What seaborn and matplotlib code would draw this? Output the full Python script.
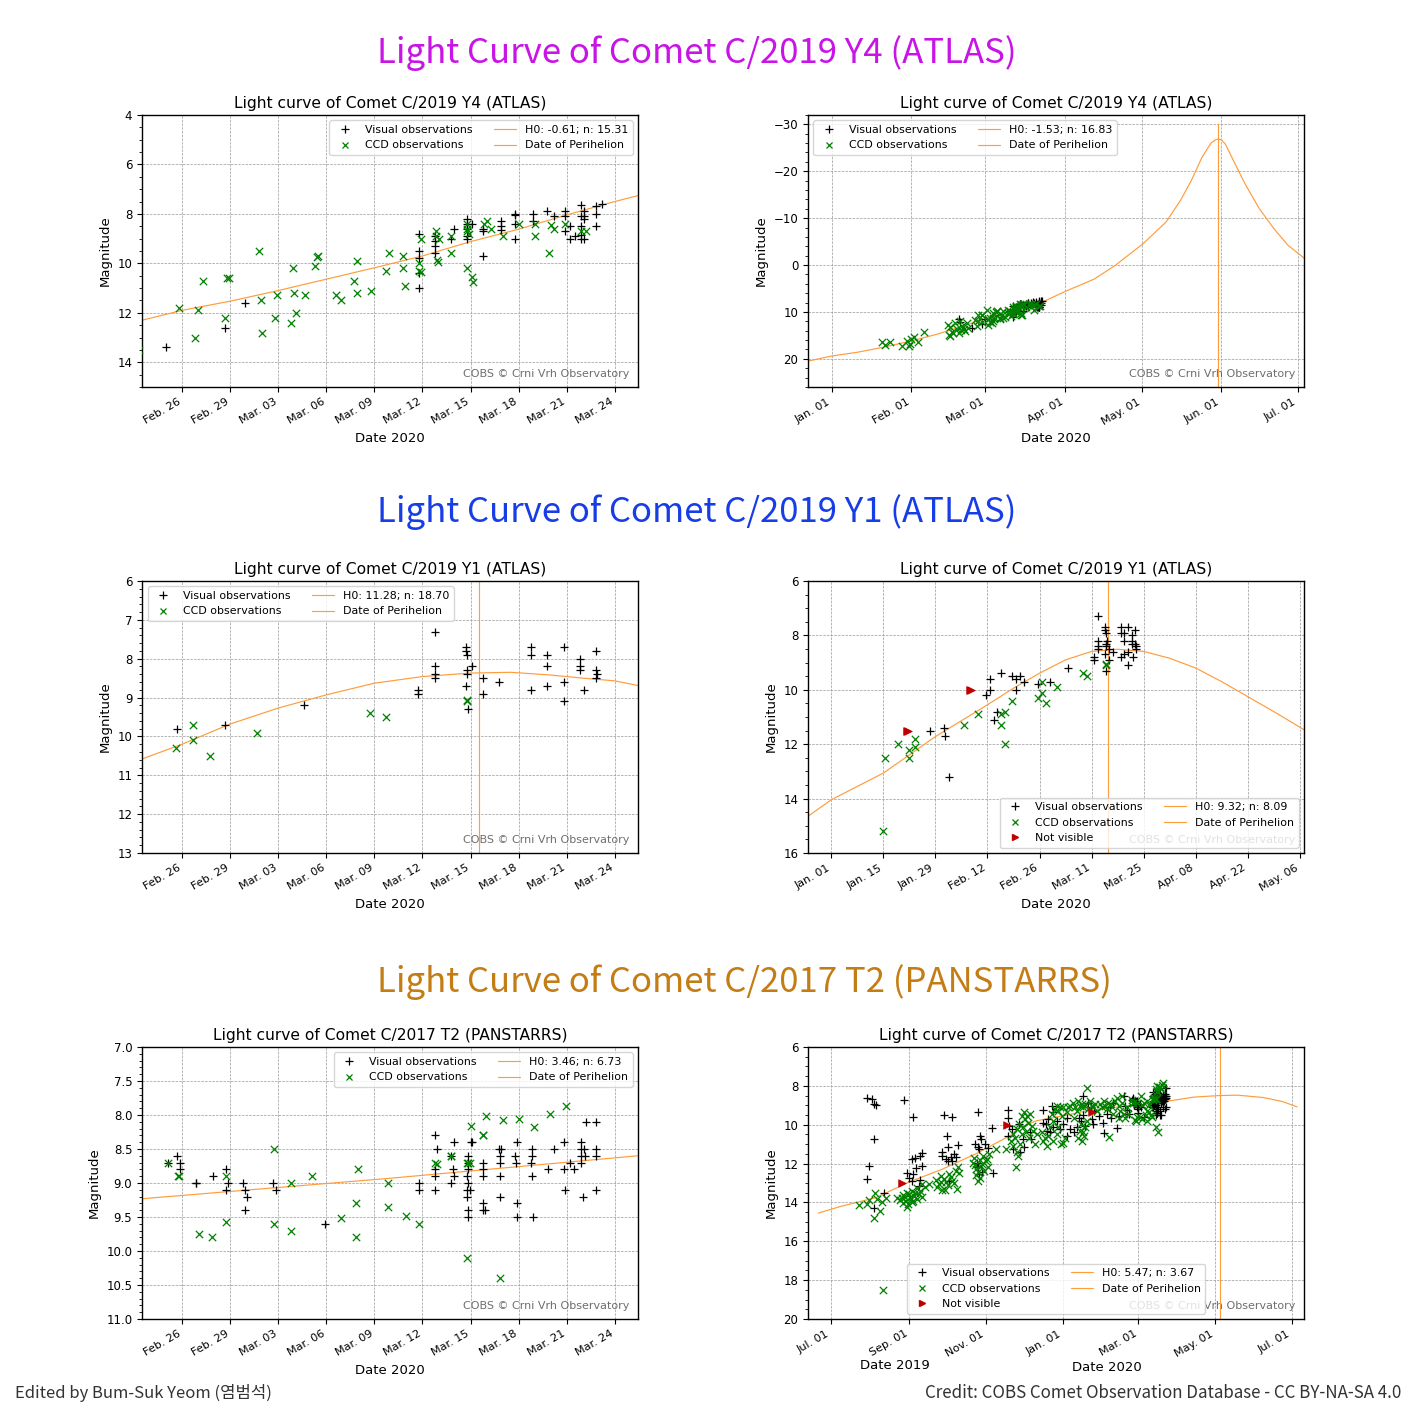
import numpy as np
import pandas as pd
import matplotlib
matplotlib.use('Agg')
import matplotlib.pyplot as plt
import matplotlib.dates as mdates
from matplotlib.lines import Line2D
from matplotlib.ticker import MultipleLocator, AutoMinorLocator, FormatStrFormatter
import seaborn as sns

# all dates are day numbers counted from 2019-12-31 (1 = 2020-01-01, negative = 2019)
BASE = pd.Timestamp('2019-12-31')

# ---- C/2019 Y4 (ATLAS) ----
y4_vis_day = [50.6, 51.3, 56.0, 59.7, 60.9,
              71.8, 71.8, 71.8, 71.8, 71.8, 72.8, 72.8, 72.8, 72.8, 73.8, 73.95,
              74.75, 74.75, 74.75, 74.75, 74.75, 75.1, 75.75, 75.75, 75.75,
              76.9, 76.9, 76.9, 77.8, 77.8, 77.8, 77.8, 78.9, 78.9, 79.8, 80.2,
              80.9, 80.9, 80.9, 81.2, 81.2, 81.5, 81.9, 81.9, 81.9, 81.9, 81.9,
              82.1, 82.1, 82.1, 82.1, 82.8, 82.8, 82.8, 83.2]
y4_vis_mag = [11.6, 12.2, 13.4, 12.6, 11.6,
              8.8, 9.5, 9.8, 10.4, 11.0, 8.9, 9.1, 9.3, 9.6, 9.0, 8.6,
              8.2, 8.4, 8.6, 8.9, 9.0, 8.4, 8.6, 8.7, 9.7,
              8.3, 8.5, 8.65, 8.0, 8.05, 8.4, 9.0, 8.0, 8.3, 7.9, 8.1,
              7.9, 8.1, 8.7, 8.5, 9.0, 8.9, 7.65, 8.1, 8.5, 8.85, 9.0,
              7.9, 8.1, 8.2, 9.0, 7.7, 8.0, 8.5, 7.6]
y4_ccd_day = [20.7, 21.9, 24.0, 28.5, 30.4, 31.3, 31.7, 32.0, 33.1, 34.6, 36.9,
              46.3, 46.7, 47.3, 47.4, 48.1, 48.6, 49.3, 49.9, 50.6, 51.2, 51.6,
              51.9, 52.8, 53.2, 53.7, 54.3,
              56.8, 57.8, 58.0, 58.3, 59.7, 59.8, 59.9, 61.8, 61.9, 62.0, 62.8,
              62.9, 63.8, 63.9, 64.0, 64.1, 64.7, 65.3, 65.4, 65.45, 66.6, 66.9,
              67.7, 67.9, 67.9, 68.8, 69.7, 69.9, 70.8, 70.8, 70.9, 71.8, 71.8,
              71.9, 71.9, 72.85, 72.85, 72.9, 72.95, 73.0, 73.8, 73.8, 74.75,
              74.8, 74.8, 74.8, 74.9, 75.1, 75.15, 75.85, 76.0, 76.3, 77.0, 78.0,
              79.0, 79.0, 79.9, 80.0, 80.2, 80.9, 81.9, 82.2]
y4_ccd_mag = [16.4, 17.0, 16.5, 17.2, 16.2, 17.3, 16.9, 15.8, 15.4, 16.3, 14.3,
              12.7, 14.9, 13.3, 15.1, 14.2, 14.4, 12.3, 13.7, 14.4, 11.9, 13.8,
              13.1, 13.7, 14.0, 12.4, 13.5,
              11.8, 13.0, 11.9, 10.7, 12.2, 10.6, 10.6, 9.5, 11.5, 12.8, 12.2,
              11.3, 12.4, 10.2, 11.2, 12.0, 11.3, 10.1, 9.75, 9.7, 11.3, 11.5,
              10.7, 11.2, 9.9, 11.1, 10.3, 9.6, 9.7, 10.2, 10.9, 10.0, 10.3,
              9.0, 10.35, 8.7, 8.9, 9.85, 9.95, 9.0, 8.9, 9.6, 8.4,
              8.6, 8.7, 10.2, 8.8, 10.55, 10.75, 8.4, 8.3, 8.6, 8.9, 8.4,
              8.4, 8.9, 9.6, 8.45, 8.6, 8.4, 8.7, 8.7]
y4_nv_day = []
y4_nv_mag = []
y4_fit_zoom_day = [54.5, 57, 60, 63, 66, 69, 72, 75, 78, 81, 84, 85.5]
y4_fit_zoom_mag = [12.3, 11.9, 11.53, 11.1, 10.64, 10.18, 9.7, 9.12, 8.62, 8.04, 7.5, 7.25]
y4_fit_full_day = [-8.3, 1, 11, 21.5, 32, 41.8, 53, 61, 72.7, 84, 92.3, 103.5, 111.9,
                   122.7, 131.6, 137.2, 141.4, 145.6, 149.1, 150.8, 152, 153.3, 154.7,
                   158.2, 162.4, 168, 173.6, 179.2, 186.3]
y4_fit_full_mag = [20.5, 19.4, 18.6, 17.5, 16.2, 14.8, 12.9, 11.4, 9.5, 7.7, 5.6, 3.0, 0.0,
                   -4.6, -9.2, -13.8, -18.0, -23.0, -26.0, -26.7, -26.9, -26.6, -25.8,
                   -21.9, -17.3, -12.0, -7.8, -4.2, -1.1]
y4_peri = 152.0

# ---- C/2019 Y1 (ATLAS) ----
y1_vis_day = [27.6, 31.3, 31.6, 32.7, 42.7, 43.75, 43.75, 44.7, 45.6, 46.6, 49.7,
              50.7, 50.7, 51.8, 52.8,
              56.7, 59.7, 64.6, 71.75, 71.75, 72.8, 72.8, 72.8, 72.8, 74.7, 74.7,
              74.75, 74.75, 74.8, 74.7, 74.85, 75.1, 75.8, 75.8, 76.8, 78.8, 78.8,
              78.8, 79.8, 79.8, 79.75, 80.8, 80.8, 80.85, 81.8, 81.8, 81.8, 82.1,
              82.8, 82.8, 82.85, 82.9]
y1_vis_mag = [11.5, 11.4, 11.7, 13.2, 10.2, 9.6, 10.0, 11.1, 10.8, 9.4, 9.5,
              9.6, 10.0, 9.5, 9.7,
              9.8, 9.7, 9.2, 8.8, 8.9, 7.3, 8.2, 8.4, 8.5, 7.7, 7.8,
              7.9, 8.3, 8.4, 8.7, 9.3, 8.2, 8.5, 8.9, 8.6, 7.7, 7.9,
              8.8, 7.9, 8.2, 8.7, 7.7, 8.6, 9.1, 8.0, 8.2, 8.3, 8.8,
              8.3, 7.8, 8.5, 8.4]
y1_ccd_day = [14.9, 15.4, 19.0, 21.75, 21.75, 23.5, 23.5, 36.6, 40.5, 46.6, 46.6,
              47.7, 47.7, 49.7,
              56.6, 57.65, 57.7, 58.75, 61.7, 68.75, 69.7, 74.75, 74.8]
y1_ccd_mag = [15.2, 12.5, 12.0, 12.2, 12.5, 11.8, 12.1, 11.3, 10.9, 10.9, 11.3,
              10.8, 12.0, 10.4,
              10.3, 9.7, 10.1, 10.5, 9.9, 9.4, 9.5, 9.1, 9.05]
y1_nv_day = [21.3, 21.6, 38.3, 38.6]
y1_nv_mag = [11.5, 11.5, 10.0, 10.0]
y1_fit_zoom_day = [54.5, 57, 60, 63, 66, 69, 72, 75, 77.5, 80, 82, 84, 85.45]
y1_fit_zoom_mag = [10.58, 10.2, 9.68, 9.27, 8.93, 8.63, 8.46, 8.37, 8.35, 8.42, 8.5, 8.57, 8.69]
y1_fit_full_day = [-5.3, 1, 15, 29, 43, 50, 57, 64, 71, 78, 85, 92, 99, 106, 113, 120, 128.2]
y1_fit_full_mag = [14.65, 14.04, 13.06, 11.72, 10.55, 9.94, 9.39, 8.9, 8.59, 8.51, 8.59,
                   8.84, 9.2, 9.7, 10.25, 10.8, 11.47]
y1_peri = 75.5

# ---- C/2017 T2 (PANSTARRS) ----
t2_vis_day = [-154.1, -150.7, -148.8, -147.0, -125.0, -117.8, -148.8, -152.8, -154.7,
              -140.9, -148.8, -93.2, -87.1, -66.6, -42.5, -42.2, -55.5, -90.5, -64.5,
              -63.7, -82.3, -89.7, -68.5, -66.6, -65.3, -60.5, -58.4, -42.2, -110.4,
              -112.5, -116.2, -118.3, -117.6, -115.2, -110.9, -95.0, -94.5, -91.8,
              -90.2, -87.9, -84.9, -83.9, -86.5, -89.4, -121.0, -118.3, -112.2,
              -113.0, -122.3, -66.6, -62.7, -54.2, -65.8, -67.2,
              -41.4, -39.6, -33.5, -30.8, -29.8, -38.2, -32.9, -25.0, -24.5, -14.9,
              -14.4, -12.3, -10.4, -7.8, -6.4, -11.7, -9.1, -7.0, -3.8, -1.1, 1.5,
              4.2, 4.2, 6.8, 10.0, 12.1, 14.3, 15.3, 16.9, 17.4, 18.5, 21.4, 23.3,
              24.1, 25.4, 25.9, 29.4, 32.8, 33.4, 36.0, 38.7, 39.2, 41.3, 44.0,
              45.3, 49.3, 50.6, 52.4, 54.0,
              56.14, 56.71, 56.84, 56.89, 57.84, 57.88, 58.92, 59.74, 59.74, 59.85,
              60.78, 60.94, 61.03, 60.9, 62.68, 62.84, 65.89, 71.8, 71.8, 72.79,
              72.93, 72.75, 72.75, 72.79, 73.81, 73.88, 73.95, 73.76, 73.95, 74.83,
              74.83, 74.83, 74.8, 74.87, 74.8, 74.78, 74.85, 74.85, 75.0, 75.1,
              74.97, 75.76, 75.8, 75.76, 75.8, 75.8, 75.92, 76.77, 76.81, 76.92,
              76.86, 76.81, 76.86, 77.79, 77.9, 77.84, 77.9, 77.9, 78.85, 78.85,
              78.78, 78.85, 78.9, 79.83, 80.2, 80.85, 80.85, 80.9, 81.2, 81.45,
              81.86, 81.9, 81.86, 81.9, 82.0, 82.07, 82.11, 82.2, 82.8, 82.8, 82.8,
              82.85]
t2_vis_mag = [8.64, 8.69, 8.91, 8.98, 8.74, 9.6, 10.74, 12.12, 12.77,
              13.49, 14.27, 9.49, 9.6, 9.37, 9.25, 9.63, 10.18, 10.57, 10.57,
              10.74, 11.05, 11.14, 11.0, 11.14, 11.26, 11.0, 11.2, 10.57, 11.45,
              11.6, 11.72, 11.77, 12.55, 12.24, 12.12, 11.38, 11.6, 11.77,
              11.89, 11.68, 11.52, 11.68, 11.89, 12.89, 12.72, 12.89, 12.85,
              13.15, 12.46, 12.2, 12.41, 12.46, 12.55, 11.95,
              10.06, 10.23, 9.94, 10.74, 11.17, 11.26, 11.38, 10.4, 10.74, 9.25,
              9.89, 9.97, 9.71, 9.03, 9.37, 10.32, 10.4, 10.11, 9.8, 10.23, 9.97,
              9.63, 10.57, 10.23, 10.4, 10.14, 9.63, 9.8, 9.49, 8.51, 10.06, 8.86, 9.11,
              9.72, 9.97, 9.29, 9.54, 9.89, 10.45, 9.46, 9.11, 9.63, 8.86, 10.18,
              9.54, 8.51, 9.03, 9.25, 9.46,
              8.71, 8.6, 8.8, 8.7, 9.0, 9.0, 8.9, 8.8, 9.1, 9.0,
              9.0, 9.1, 9.2, 9.4, 9.0, 9.1, 9.6, 9.0, 9.1, 8.3,
              8.5, 8.8, 8.9, 9.1, 8.6, 8.8, 8.4, 9.0, 8.9, 8.6,
              8.7, 8.8, 8.9, 9.0, 9.1, 9.2, 9.4, 9.5, 8.4, 8.4,
              9.1, 8.7, 8.8, 8.9, 9.3, 9.4, 9.4, 8.5, 8.6, 8.5,
              8.7, 8.9, 9.2, 8.6, 8.4, 8.7, 9.3, 9.5, 8.5, 8.6,
              8.7, 8.9, 9.5, 8.8, 8.5, 8.4, 8.8, 9.1, 8.7, 8.8,
              8.4, 8.5, 8.6, 8.7, 9.2, 8.5, 8.6, 8.1, 8.1, 8.6, 8.5,
              9.1]
t2_ccd_day = [-160.8, -152.8, -148.0, -146.2, -144.3, -142.7, -148.8, -154.1, -139.6,
              -130.3, -126.3, -123.7, -122.3, -121.0, -119.7, -118.3, -117.0, -114.4,
              -113.0, -110.4, -105.1, -99.8, -97.1, -95.8, -94.5, -91.8, -89.2, -86.5,
              -83.3, -81.2, -82.5, -70.6, -68.0, -66.6, -64.0, -61.3, -60.0, -57.4,
              -52.1, -44.1, -141.5,
              -128.0, -124.5, -120.0, -119.0, -116.0, -115.0, -112.0, -111.0, -108.0,
              -121.5, -117.5, -125.5, -122.5, -126.0,
              -98.5, -93.0, -90.0, -88.0, -85.0, -92.5, -96.0, -84.0,
              -69.0, -67.5, -65.0, -63.0, -62.0, -59.0, -58.5, -69.5, -66.0, -64.5,
              -40.4, -38.2, -36.9, -35.6, -34.3, -32.9, -31.6, -30.3, -29.0, -27.6,
              -26.3, -28.2, -25.5, -23.7, -22.3, -21.0, -19.7, -31.6, -29.8, -33.5,
              -35.6, -38.8, -25.0, -36.1,
              -15.7, -14.4, -13.1, -11.7, -10.4, -9.1, -7.8, -6.4, -5.1, -3.8, -2.4,
              -1.1, 0.2, -3.8, -2.4, -0.6, 1.0, 2.9, 4.2, 5.5, 1.5, -6.4, 6.8,
              9.5, 10.8, 12.1, 13.5, 14.8, 16.1, 17.4, 18.8, 20.1, 21.4, 22.7, 24.1,
              25.4, 26.7, 28.0, 13.5, 14.8, 16.1, 17.4, 18.8, 15.3, 20.1, 10.0, 18.0,
              30.7, 32.0, 33.4, 34.7, 36.0, 37.3, 38.7, 40.0, 42.6, 44.0, 45.3, 46.6,
              47.9, 49.3, 50.6, 51.9, 53.2, 38.1, 45.3, 47.9, 41.3,
              56.14, 56.75, 56.8, 58.04, 58.88, 59.74, 59.74, 62.75, 62.72, 63.81,
              63.81, 65.12, 66.89, 67.88, 67.97, 67.88, 69.87, 69.87, 70.94, 71.8,
              72.81, 72.9, 73.76, 73.8, 74.78, 74.85, 74.95, 74.78, 75.0, 75.76,
              75.8, 75.96, 77.04, 76.82, 78.02, 78.97, 79.94, 80.96]
t2_ccd_mag = [14.15, 13.88, 13.49, 13.83, 14.43, 14.0, 14.78, 14.09, 13.75,
              13.78, 13.78, 13.92, 14.23, 13.57, 13.83, 13.4, 13.66, 13.27,
              13.57, 13.06, 13.06, 12.85, 13.06, 12.63, 13.37, 12.97, 12.55, 12.89,
              13.32, 12.46, 12.2, 11.95, 12.29, 12.89, 12.12, 12.37, 11.86, 11.52,
              11.26, 11.26, 18.5,
              13.9, 13.7, 13.7, 14.0, 13.5, 13.8, 13.4, 13.7, 13.2,
              14.1, 13.95, 14.05, 13.5, 13.6,
              13.2, 12.8, 13.1, 12.7, 13.0, 13.35, 12.95, 12.4,
              12.05, 12.6, 11.8, 12.0, 11.6, 11.75, 12.2, 11.7, 12.45, 12.75,
              10.83, 11.09, 10.66, 11.43, 11.6, 11.0, 10.49, 10.14, 9.72, 9.54,
              9.89, 10.4, 10.66, 10.06, 10.32, 11.0, 10.49, 9.54, 9.37, 9.97,
              10.23, 10.49, 9.46, 12.17,
              10.4, 10.83, 10.66, 11.09, 10.57, 10.14, 9.46, 10.83, 9.2, 9.03, 9.29,
              9.11, 9.54, 10.49, 10.14, 11.0, 10.92, 10.66, 9.37, 9.11, 9.11, 9.8, 9.03,
              8.86, 9.11, 9.29, 8.77, 9.03, 8.94, 9.11, 8.91, 8.09, 9.2, 8.77, 9.03,
              9.11, 8.94, 9.29, 10.66, 10.32, 10.83, 10.4, 10.14, 9.97, 9.8, 9.63, 10.57,
              8.94, 9.11, 8.77, 9.03, 9.2, 8.86, 8.94, 9.11, 8.77, 8.6, 9.03, 9.29,
              8.86, 9.46, 9.63, 9.11, 9.46, 10.62, 9.63, 8.51, 9.46,
              8.71, 8.9, 8.9, 9.75, 9.8, 8.9, 9.58, 8.5, 9.6, 9.0,
              9.71, 8.9, 9.52, 9.3, 8.8, 9.8, 9.0, 9.36, 9.49, 9.6,
              8.7, 8.72, 8.6, 8.6, 8.7, 8.7, 8.7, 10.1, 8.16, 8.3,
              8.29, 8.02, 8.07, 10.4, 8.06, 8.18, 7.98, 7.87]
t2_nv_day = [-126.8, -43.5, 24.1]
t2_nv_mag = [13.0, 10.0, 9.37]
t2_fit_zoom_day = [54.58, 70, 85.42]
t2_fit_zoom_mag = [9.23, 8.93, 8.6]
t2_fit_full_day = [-193, -175, -147, -121, -95, -68, -52, -46, -39, -33, -20, 1, 20, 41,
                   61, 89, 105, 125, 140, 160, 175, 187]
t2_fit_full_mag = [14.55, 14.2, 13.75, 12.95, 12.3, 11.5, 10.95, 10.74, 10.5, 10.15, 9.8,
                   9.54, 9.29, 9.11, 8.98, 8.74, 8.58, 8.5, 8.48, 8.6, 8.8, 9.08]
t2_peri = 126.0

fit_labels = {
    ('y4', 'zoom'): 'H0: -0.61; n: 15.31', ('y4', 'full'): 'H0: -1.53; n: 16.83',
    ('y1', 'zoom'): 'H0: 11.28; n: 18.70', ('y1', 'full'): 'H0: 9.32; n: 8.09',
    ('t2', 'zoom'): 'H0: 3.46; n: 6.73', ('t2', 'full'): 'H0: 5.47; n: 3.67',
}
comet_names = {'y4': 'C/2019 Y4 (ATLAS)', 'y1': 'C/2019 Y1 (ATLAS)', 't2': 'C/2017 T2 (PANSTARRS)'}

comets = {
    'y4': dict(vis=(y4_vis_day, y4_vis_mag), ccd=(y4_ccd_day, y4_ccd_mag), nv=(y4_nv_day, y4_nv_mag),
               zoom=(y4_fit_zoom_day, y4_fit_zoom_mag), full=(y4_fit_full_day, y4_fit_full_mag), peri=y4_peri),
    'y1': dict(vis=(y1_vis_day, y1_vis_mag), ccd=(y1_ccd_day, y1_ccd_mag), nv=(y1_nv_day, y1_nv_mag),
               zoom=(y1_fit_zoom_day, y1_fit_zoom_mag), full=(y1_fit_full_day, y1_fit_full_mag), peri=y1_peri),
    't2': dict(vis=(t2_vis_day, t2_vis_mag), ccd=(t2_ccd_day, t2_ccd_mag), nv=(t2_nv_day, t2_nv_mag),
               zoom=(t2_fit_zoom_day, t2_fit_zoom_mag), full=(t2_fit_full_day, t2_fit_full_mag), peri=t2_peri),
}


def to_date(days):
    return BASE + pd.to_timedelta(np.asarray(days, dtype=float), unit='D')


ORANGE = '#ff9c3c'
sns.set_theme(style='ticks', rc={
    'axes.edgecolor': 'black', 'axes.labelcolor': 'black', 'text.color': 'black',
    'xtick.color': 'black', 'ytick.color': 'black', 'axes.linewidth': 1.0,
    'xtick.major.size': 3.5, 'ytick.major.size': 3.5, 'ytick.minor.size': 2,
    'xtick.major.width': 0.8, 'ytick.major.width': 0.8, 'ytick.minor.width': 0.6,
})
plt.rcParams['font.family'] = ['DejaVu Sans']

fig = plt.figure(figsize=(14.16, 14.16), dpi=100)

LEFT, RIGHT = 0.1003, 0.5706
W, H = 0.3503, 0.1921
rows = [0.7267, 0.3976, 0.0685]

three_day = pd.date_range('2020-02-26', '2020-03-24', freq='3D')
panels = [
    dict(pos=(LEFT, rows[0]), c='y4', fit='zoom', xlim=(54.5, 85.45), ylim=(15, 4), ystep=2,
         xticks=three_day, loc='upper right'),
    dict(pos=(RIGHT, rows[0]), c='y4', fit='full', xlim=(-8.2, 185.4), ylim=(26, -32), ystep=10,
         xticks=pd.date_range('2020-01-01', '2020-07-01', freq='MS'), loc='upper left', peri_span=(-30, 30)),
    dict(pos=(LEFT, rows[1]), c='y1', fit='zoom', xlim=(54.5, 85.45), ylim=(13, 6), ystep=1,
         xticks=three_day, loc='upper left'),
    dict(pos=(RIGHT, rows[1]), c='y1', fit='full', xlim=(-5.3, 128.15), ylim=(16, 6), ystep=2,
         xticks=pd.date_range('2020-01-01', '2020-05-06', freq='14D'), loc='lower right'),
    dict(pos=(LEFT, rows[2]), c='t2', fit='zoom', xlim=(54.5, 85.45), ylim=(11, 7), ystep=0.5,
         xticks=three_day, loc='upper right', yfmt='%.1f'),
    dict(pos=(RIGHT, rows[2]), c='t2', fit='full', xlim=(-201.2, 192.5), ylim=(20, 6), ystep=2,
         xticks=pd.to_datetime(['2019-07-01', '2019-09-01', '2019-11-01', '2020-01-01',
                                '2020-03-01', '2020-05-01', '2020-07-01']),
         loc='lower center', two_years=True),
]

for p in panels:
    ax = fig.add_axes([p['pos'][0], p['pos'][1], W, H])
    cm = comets[p['c']]
    lo, hi = p['xlim']

    fd, fm = cm[p['fit']]
    sns.lineplot(x=to_date(fd), y=fm, color=ORANGE, linewidth=0.85, sort=False,
                 estimator=None, ax=ax, zorder=2, legend=False)
    peri = to_date([cm['peri']])[0]
    if 'peri_span' in p:
        ax.plot([peri, peri], p['peri_span'], color=ORANGE, lw=0.85, zorder=2)
    else:
        ax.axvline(peri, color=ORANGE, lw=0.85, zorder=2)

    vd, vm = cm['vis']
    sns.scatterplot(x=to_date(vd), y=vm, marker='+', color='black', s=36, linewidth=0.9,
                    ax=ax, zorder=3, legend=False)
    cd, cmag = cm['ccd']
    sns.scatterplot(x=to_date(cd), y=cmag, marker='x', color='green', s=28, linewidth=0.9,
                    ax=ax, zorder=3, legend=False)
    nd, nm = cm['nv']
    has_nv = any(lo <= d <= hi for d in nd)
    if has_nv:
        sns.scatterplot(x=to_date(nd), y=nm, marker='>', color='#c00000', edgecolor='#c00000',
                        s=30, linewidth=0.5, ax=ax, zorder=4, legend=False)

    ax.set_xlim(to_date([lo])[0], to_date([hi])[0])
    ax.set_ylim(*p['ylim'])
    ax.yaxis.set_major_locator(MultipleLocator(p['ystep']))
    ax.yaxis.set_minor_locator(AutoMinorLocator())
    if 'yfmt' in p:
        ax.yaxis.set_major_formatter(FormatStrFormatter(p['yfmt']))
    ax.set_xticks(p['xticks'])
    ax.xaxis.set_major_formatter(mdates.DateFormatter('%b. %d'))
    ax.tick_params(axis='x', labelsize=8, rotation=30)
    for lab in ax.get_xticklabels():
        lab.set_ha('right')
    ax.tick_params(axis='y', labelsize=8.5)
    ax.grid(True, which='major', ls='--', lw=0.5, color='0.6')
    for s in ax.spines.values():
        s.set_visible(True)

    ax.set_title(f"Light curve of Comet {comet_names[p['c']]}", fontsize=11.2, pad=5)
    ax.set_ylabel('Magnitude', fontsize=9.5)
    if p.get('two_years'):
        ax.set_xlabel('')
        ax.text(0.175, -0.148, 'Date 2019', transform=ax.transAxes, ha='center', va='top', fontsize=9.5)
        ax.text(0.603, -0.155, 'Date 2020', transform=ax.transAxes, ha='center', va='top', fontsize=9.5)
    else:
        ax.set_xlabel('Date 2020', fontsize=9.5)

    ax.text(0.982, 0.03, 'COBS \u00a9 Crni Vrh Observatory', transform=ax.transAxes,
            ha='right', va='bottom', fontsize=8, color='#555555', alpha=0.85, zorder=1)

    handles = [Line2D([], [], ls='', marker='+', color='black', ms=6, mew=0.9),
               Line2D([], [], ls='', marker='x', color='green', ms=5, mew=0.9)]
    labels = ['Visual observations', 'CCD observations']
    if has_nv:
        handles.append(Line2D([], [], ls='', marker='>', color='#c00000', ms=5))
        labels.append('Not visible')
    handles += [Line2D([], [], color=ORANGE, lw=0.85), Line2D([], [], color=ORANGE, lw=0.85)]
    labels += [fit_labels[(p['c'], p['fit'])], 'Date of Perihelion']
    leg = ax.legend(handles, labels, loc=p['loc'], ncol=2, fontsize=7.9, framealpha=0.8,
                    edgecolor='0.8', fancybox=True)
    leg.set_zorder(6)

title_font = ['Noto Sans CJK KR', 'DejaVu Sans']
big_titles = [('Light Curve of Comet C/2019 Y4 (ATLAS)', '#c814e6', 53),
              ('Light Curve of Comet C/2019 Y1 (ATLAS)', '#163de6', 512),
              ('Light Curve of Comet C/2017 T2 (PANSTARRS)', '#c47c14', 982)]
for txt, col, ypx in big_titles:
    fig.text(0.266, 1 - ypx / 1416, txt, ha='left', va='center', fontsize=25,
             color=col, family=title_font)

fig.text(15 / 1416, 1 - 1393 / 1416, 'Edited by Bum-Suk Yeom (염범석)', ha='left', va='center',
         fontsize=12, color='#333333', family=title_font)
fig.text(1401 / 1416, 1 - 1393 / 1416, 'Credit: COBS Comet Observation Database - CC BY-NA-SA 4.0',
         ha='right', va='center', fontsize=12.2, color='#333333', family=title_font)

fig.savefig('out.png', dpi=100)
